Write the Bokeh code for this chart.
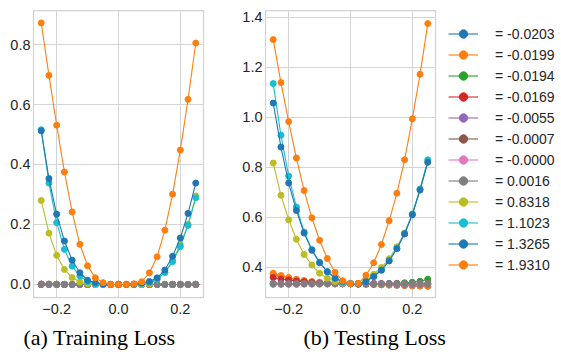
from bokeh.plotting import figure
from bokeh.models import (Range1d, FixedTicker, CustomJSTickFormatter, Legend,
                          LegendItem, Title, ColumnDataSource)
from bokeh.layouts import row
from bokeh.embed import file_html
from bokeh.resources import INLINE

# ---------------- data ----------------
x_vals = [-0.25, -0.225, -0.2, -0.175, -0.15, -0.125, -0.1, -0.075, -0.05, -0.025,
          0.0, 0.025, 0.05, 0.075, 0.1, 0.125, 0.15, 0.175, 0.2, 0.225, 0.25]

series_labels = ["= -0.0203", "= -0.0199", "= -0.0194", "= -0.0169", "= -0.0055",
                 "= -0.0007", "= -0.0000", "= 0.0016", "= 0.8318", "= 1.1023",
                 "= 1.3265", "= 1.9310"]

series_colors = ["#1f77b4", "#ff7f0e", "#2ca02c", "#d62728", "#9467bd", "#8c564b",
                 "#e377c2", "#7f7f7f", "#bcbd22", "#17becf", "#1f77b4", "#ff7f0e"]

# Training loss
train_m0203 = [0.001, 0.001, 0.001, 0.0, 0.0, 0.0, 0.0, 0.0, 0.0, 0.0, 0.0,
               0.0, 0.0, 0.0, 0.0, 0.0, 0.0, 0.0, 0.0, 0.0, 0.0]
train_m0199 = [0.001, 0.001, 0.001, 0.0, 0.0, 0.0, 0.0, 0.0, 0.0, 0.0, 0.0,
               0.0, 0.0, 0.0, 0.0, 0.0, 0.0, 0.0, 0.0, 0.0, 0.0]
train_m0194 = [0.0, 0.0, 0.0, 0.0, 0.0, 0.0, 0.0, 0.0, 0.0, 0.0, 0.0,
               0.0, 0.0, 0.0, 0.0, 0.0, 0.0, 0.0, 0.0, 0.0, 0.001]
train_m0169 = [0.001, 0.0, 0.0, 0.0, 0.0, 0.0, 0.0, 0.0, 0.0, 0.0, 0.0,
               0.0, 0.0, 0.0, 0.0, 0.0, 0.0, 0.0, 0.0, 0.0, 0.0]
train_m0055 = [0.0, 0.0, 0.0, 0.0, 0.0, 0.0, 0.0, 0.0, 0.0, 0.0, 0.0,
               0.0, 0.0, 0.0, 0.0, 0.0, 0.0, 0.0, 0.0, 0.0, 0.0]
train_m0007 = [0.0, 0.0, 0.0, 0.0, 0.0, 0.0, 0.0, 0.0, 0.0, 0.0, 0.0,
               0.0, 0.0, 0.0, 0.0, 0.0, 0.0, 0.0, 0.0, 0.0, 0.0]
train_m0000 = [0.0, 0.0, 0.0, 0.0, 0.0, 0.0, 0.0, 0.0, 0.0, 0.0, 0.0,
               0.0, 0.0, 0.0, 0.0, 0.0, 0.0, 0.0, 0.0, 0.0, 0.0]
train_p0016 = [0.0, 0.0, 0.0, 0.0, 0.0, 0.0, 0.0, 0.0, 0.0, 0.0, 0.0,
               0.0, 0.0, 0.0, 0.0, 0.0, 0.0, 0.0, 0.0, 0.0, 0.0]
train_p8318 = [0.280, 0.171, 0.097, 0.050, 0.023, 0.008, 0.002, 0.0, 0.0, 0.0, 0.0,
               0.0, 0.0, 0.0, 0.002, 0.018, 0.040, 0.080, 0.133, 0.200, 0.295]
train_p11023 = [0.516, 0.338, 0.206, 0.117, 0.061, 0.028, 0.009, 0.002, 0.0, 0.0, 0.0,
                0.0, 0.0, 0.003, 0.006, 0.017, 0.040, 0.076, 0.126, 0.197, 0.289]
train_p13265 = [0.512, 0.353, 0.234, 0.145, 0.081, 0.039, 0.014, 0.006, 0.001, 0.0, 0.0,
                0.0, 0.001, 0.005, 0.010, 0.022, 0.048, 0.094, 0.155, 0.237, 0.338]
train_p19310 = [0.872, 0.697, 0.531, 0.375, 0.242, 0.134, 0.062, 0.022, 0.006, 0.0, 0.0,
                0.0, 0.002, 0.009, 0.039, 0.092, 0.181, 0.301, 0.448, 0.617, 0.805]

# Testing loss
test_m0203 = [0.372, 0.363, 0.356, 0.349, 0.344, 0.340, 0.337, 0.335, 0.334, 0.333, 0.333,
              0.332, 0.331, 0.330, 0.329, 0.328, 0.327, 0.326, 0.325, 0.324, 0.323]
test_m0199 = [0.375, 0.366, 0.358, 0.351, 0.346, 0.342, 0.339, 0.337, 0.335, 0.334, 0.333,
              0.332, 0.331, 0.330, 0.329, 0.328, 0.327, 0.326, 0.325, 0.324, 0.323]
test_m0194 = [0.331, 0.331, 0.331, 0.331, 0.332, 0.332, 0.332, 0.332, 0.333, 0.333, 0.333,
              0.333, 0.333, 0.333, 0.333, 0.334, 0.335, 0.337, 0.339, 0.343, 0.351]
test_m0169 = [0.358, 0.352, 0.348, 0.344, 0.341, 0.338, 0.336, 0.335, 0.334, 0.333, 0.333,
              0.333, 0.332, 0.332, 0.332, 0.332, 0.331, 0.331, 0.331, 0.331, 0.331]
test_m0055 = [0.334, 0.334, 0.334, 0.334, 0.334, 0.334, 0.334, 0.334, 0.334, 0.334, 0.334,
              0.334, 0.334, 0.334, 0.334, 0.334, 0.334, 0.334, 0.334, 0.334, 0.334]
test_m0007 = [0.333, 0.333, 0.333, 0.333, 0.333, 0.333, 0.333, 0.333, 0.333, 0.333, 0.333,
              0.333, 0.333, 0.333, 0.333, 0.333, 0.333, 0.333, 0.333, 0.333, 0.333]
test_m0000 = [0.332, 0.332, 0.332, 0.332, 0.332, 0.332, 0.332, 0.332, 0.332, 0.332, 0.332,
              0.332, 0.332, 0.332, 0.332, 0.332, 0.332, 0.332, 0.332, 0.332, 0.332]
test_p0016 = [0.333, 0.333, 0.333, 0.333, 0.333, 0.333, 0.333, 0.333, 0.333, 0.333, 0.333,
              0.333, 0.333, 0.333, 0.333, 0.333, 0.333, 0.333, 0.333, 0.333, 0.333]
test_p8318 = [0.816, 0.687, 0.589, 0.511, 0.450, 0.408, 0.375, 0.355, 0.342, 0.335, 0.333,
              0.334, 0.345, 0.371, 0.398, 0.433, 0.481, 0.536, 0.612, 0.710, 0.820]
test_p11023 = [1.134, 0.927, 0.764, 0.640, 0.540, 0.470, 0.419, 0.381, 0.355, 0.339, 0.333,
               0.333, 0.343, 0.362, 0.388, 0.426, 0.475, 0.534, 0.612, 0.712, 0.829]
test_p13265 = [1.056, 0.880, 0.736, 0.626, 0.536, 0.467, 0.417, 0.381, 0.355, 0.342, 0.333,
               0.331, 0.342, 0.362, 0.387, 0.424, 0.473, 0.532, 0.609, 0.708, 0.819]
test_p19310 = [1.310, 1.138, 0.982, 0.836, 0.706, 0.597, 0.507, 0.434, 0.379, 0.345, 0.333,
               0.334, 0.367, 0.417, 0.490, 0.585, 0.695, 0.829, 0.993, 1.171, 1.374]

train_series = [train_m0203, train_m0199, train_m0194, train_m0169, train_m0055,
                train_m0007, train_m0000, train_p0016, train_p8318, train_p11023,
                train_p13265, train_p19310]
test_series = [test_m0203, test_m0199, test_m0194, test_m0169, test_m0055,
               test_m0007, test_m0000, test_p0016, test_p8318, test_p11023,
               test_p13265, test_p19310]

train_yticks = [0.0, 0.2, 0.4, 0.6, 0.8]
test_yticks = [0.4, 0.6, 0.8, 1.0, 1.2, 1.4]
x_ticks = [-0.2, 0.0, 0.2]

# ---------------- styling ----------------
TICK_FONT = "Liberation Sans"
TICK_SIZE = "14.5px"
TICK_COLOR = "#262626"
GRID_COLOR = "#d4d4d4"
fmt_code = "return (tick < -1e-9 ? '\u2212' : '') + Math.abs(tick).toFixed(1);"


def make_fig(series, y_range, yticks, border_left, border_right, caption, cap_offset):
    p = figure(frame_width=170, frame_height=287,
               x_range=Range1d(-0.275, 0.275), y_range=Range1d(*y_range),
               output_backend="svg", toolbar_location=None,
               min_border_left=border_left, min_border_right=border_right,
               min_border_top=10, min_border_bottom=0)
    p.background_fill_color = "white"
    p.border_fill_color = "white"
    p.outline_line_color = GRID_COLOR
    p.outline_line_width = 1.25

    for ax in (p.xaxis[0], p.yaxis[0]):
        ax.axis_line_color = None
        ax.major_tick_line_color = None
        ax.minor_tick_line_color = None
        ax.major_tick_out = 0
        ax.major_tick_in = 0
        ax.major_label_text_font = TICK_FONT
        ax.major_label_text_font_size = TICK_SIZE
        ax.major_label_text_color = TICK_COLOR
        ax.formatter = CustomJSTickFormatter(code=fmt_code)
    p.xaxis[0].ticker = FixedTicker(ticks=x_ticks)
    p.yaxis[0].ticker = FixedTicker(ticks=yticks)
    p.xaxis[0].major_label_standoff = 6
    p.yaxis[0].major_label_standoff = 3

    p.xgrid.grid_line_color = GRID_COLOR
    p.ygrid.grid_line_color = GRID_COLOR
    p.xgrid.grid_line_width = 1
    p.ygrid.grid_line_width = 1

    items = []
    for vals, col, lab in zip(series, series_colors, series_labels):
        src = ColumnDataSource(dict(x=x_vals, y=vals))
        r1 = p.line("x", "y", source=src, line_color=col, line_width=1.1)
        r2 = p.scatter("x", "y", source=src, size=6, fill_color=col, line_color=col)
        items.append(LegendItem(label=lab, renderers=[r1, r2]))

    cap = Title(text=caption, align="left", offset=cap_offset,
                text_font="Liberation Serif", text_font_size="22px",
                text_font_style="normal", text_color="black", standoff=13)
    p.add_layout(cap, "below")
    return p, items


p1, _ = make_fig(train_series, (-0.0435, 0.9135), train_yticks, 33, 10,
                 "(a) Training Loss", -10)
p2, items = make_fig(test_series, (0.278, 1.4265), test_yticks, 52, 125,
                     "(b) Testing Loss", 38)

legend = Legend(items=items, location=(13, 22), margin=0, padding=0,
                glyph_width=30, glyph_height=21, label_height=21, spacing=0,
                label_standoff=17, label_text_font=TICK_FONT,
                label_text_font_size="14px", label_text_color=TICK_COLOR,
                border_line_alpha=0, background_fill_alpha=0)
p2.add_layout(legend, "right")

layout = row(p1, p2)
open("out.html", "w").write(file_html(layout, INLINE))
